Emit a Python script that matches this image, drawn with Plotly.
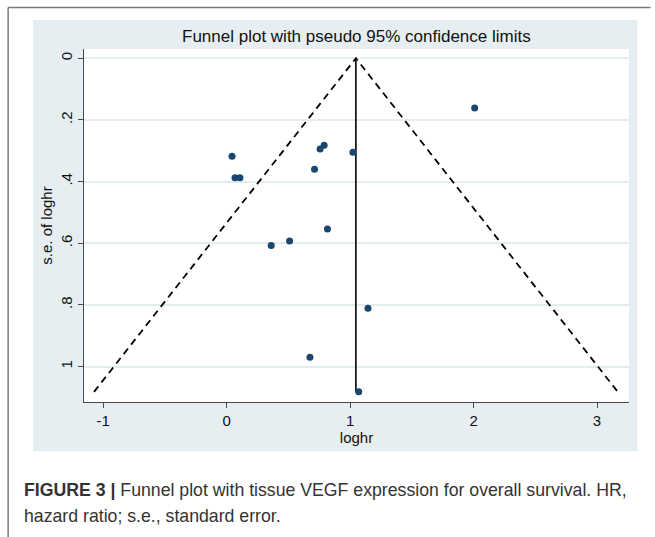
import plotly.graph_objects as go

# ---- data ----
loghr = [2.009, 0.044, 0.068, 0.108, 0.757, 0.790, 1.023, 0.712, 0.817,
         0.361, 0.510, 1.145, 0.675, 1.070]
se_loghr = [0.161, 0.318, 0.388, 0.388, 0.294, 0.282, 0.305, 0.360, 0.554,
            0.607, 0.593, 0.811, 0.970, 1.082]
pooled = 1.047
z95 = 1.96
x_ticks = [-1, 0, 1, 2, 3]
x_ticklabels = ["-1", "0", "1", "2", "3"]
y_ticks = [0, 0.2, 0.4, 0.6, 0.8, 1.0]
y_ticklabels = ["0", ".2", ".4", ".6", ".8", "1"]

title_text = "Funnel plot with pseudo 95% confidence limits"
caption_line1 = "<b>FIGURE 3 |</b> Funnel plot with tissue VEGF expression for overall survival. HR,"
caption_line2 = "hazard ratio; s.e., standard error."

se_max = max(se_loghr)

W, H = 655, 537
L, R, T, B = 83.5, 629.5, 49.0, 401.7
pw, ph = R - L, B - T


def px2x(p):
    return (p - L) / pw


def py2y(p):
    return (B - p) / ph


PANEL = "#e6eef1"
GRID = "#e3edf0"
NAVY = "#1a476f"
AXIS = "#4a4a4a"
FONT = "Liberation Sans, Arial, sans-serif"

fig = go.Figure()

# pseudo 95% confidence limits
fig.add_trace(go.Scatter(
    x=[pooled - z95 * se_max, pooled, pooled + z95 * se_max],
    y=[se_max, 0, se_max],
    mode="lines",
    line=dict(color="black", width=1.8, dash="7px,5px"),
    hoverinfo="skip", showlegend=False))
# pooled estimate
fig.add_trace(go.Scatter(
    x=[pooled, pooled], y=[0, se_max], mode="lines",
    line=dict(color="black", width=1.6),
    hoverinfo="skip", showlegend=False))
# studies
fig.add_trace(go.Scatter(
    x=loghr, y=se_loghr, mode="markers",
    marker=dict(color=NAVY, size=7),
    showlegend=False))

shapes = [
    # outer frame lines
    dict(type="line", xref="paper", yref="paper",
         x0=px2x(7.5), x1=px2x(651), y0=py2y(7.5), y1=py2y(7.5),
         line=dict(color="#7a7a7a", width=1.5), layer="below"),
    dict(type="line", xref="paper", yref="paper",
         x0=px2x(7.5), x1=px2x(7.5), y0=py2y(7.5), y1=py2y(540),
         line=dict(color="#7a7a7a", width=1.5), layer="below"),
    # stata graph region
    dict(type="rect", xref="paper", yref="paper",
         x0=px2x(32.6), x1=px2x(637.8), y0=py2y(451), y1=py2y(20),
         fillcolor=PANEL, line=dict(width=0), layer="below"),
    # white plot region
    dict(type="rect", xref="paper", yref="paper",
         x0=0, x1=1, y0=0, y1=1,
         fillcolor="white", line=dict(width=0), layer="below"),
]

annotations = [
    dict(text=title_text, xref="paper", yref="paper",
         x=px2x(356), y=py2y(37), xanchor="center", yanchor="middle",
         showarrow=False, font=dict(family=FONT, size=17, color="#111")),
    dict(text=caption_line1, xref="paper", yref="paper",
         x=px2x(21), y=py2y(490), xanchor="left", yanchor="middle",
         showarrow=False, font=dict(family=FONT, size=17.7, color="#333")),
    dict(text=caption_line2, xref="paper", yref="paper",
         x=px2x(21), y=py2y(516), xanchor="left", yanchor="middle",
         showarrow=False, font=dict(family=FONT, size=17.7, color="#333")),
]

fig.update_layout(
    width=W, height=H,
    margin=dict(l=L, r=W - R, t=T, b=H - B, pad=0),
    paper_bgcolor="white", plot_bgcolor="white",
    shapes=shapes, annotations=annotations,
    font=dict(family=FONT, size=15, color="#111"),
    xaxis=dict(
        range=[-1.155, 3.259], tickvals=x_ticks, ticktext=x_ticklabels,
        showgrid=False, zeroline=False,
        showline=True, linecolor=AXIS, linewidth=1.2,
        ticks="outside", ticklen=5, tickcolor=AXIS, tickwidth=1.2,
        tickfont=dict(family=FONT, size=15, color="#111"),
        title=dict(text="loghr", standoff=1,
                   font=dict(family=FONT, size=15, color="#111")),
    ),
    yaxis=dict(
        range=[1.115, -0.030], tickvals=y_ticks, ticktext=y_ticklabels,
        showgrid=True, gridcolor=GRID, gridwidth=2, zeroline=False,
        showline=True, linecolor=AXIS, linewidth=1.2,
        ticks="outside", ticklen=5, tickcolor=AXIS, tickwidth=1.2,
        tickangle=-90,
        tickfont=dict(family=FONT, size=15, color="#111"),
        title=dict(text="s.e. of loghr", standoff=1,
                   font=dict(family=FONT, size=15, color="#111")),
    ),
)

fig.write_html("out.html")
